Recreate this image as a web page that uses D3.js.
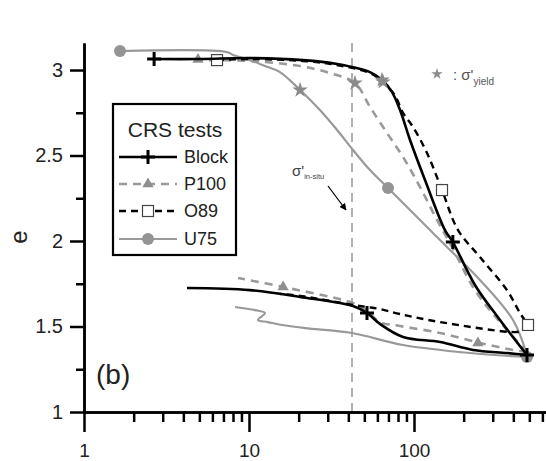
<!DOCTYPE html>
<html>
<head>
<meta charset="utf-8">
<script src="https://cdn.jsdelivr.net/npm/d3@7"></script>
<style>
  body { margin: 0; background: #fff; }
  svg { display: block; font-family: "Liberation Sans", Arial, sans-serif; }
</style>
</head>
<body>
<div id="chart"></div>
<script>
// CRS tests: effective stress (kPa, log) vs void ratio e
// each curve as [stress, e] pairs, loading then unloading branch
const blockLoading = [[2.66,3.064],[5.05,3.064],[10.1,3.070],[21.2,3.058],[34.2,3.035],[54.1,2.988],[64.0,2.942],
    [73.6,2.871],[82.3,2.766],[94.6,2.591],[116.6,2.357],[154,2.064],[172,1.994],[234,1.743],[332,1.538],[484,1.333]];
const blockUnloading = [[484,1.333],[366,1.345],[228,1.363],[144,1.409],[85.8,1.439],[62.2,1.515],[51.9,1.579],
    [42.7,1.620],[20.4,1.673],[10.1,1.713],[4.21,1.725]];

const p100Loading = [[4.71,3.058],[10.1,3.053],[20.4,3.023],[31.0,2.982],[43.9,2.924],[54.1,2.784],[68.6,2.632],
    [85.8,2.491],[108.7,2.316],[137.9,2.123],[170,1.965],[234,1.713],[332,1.526],[484,1.351]];
const p100Unloading = [[484,1.351],[398,1.363],[251,1.404],[144,1.462],[82.3,1.503],[62.2,1.526],[51.9,1.591],
    [42.7,1.637],[16.1,1.731],[8.58,1.784]];

const o89Loading = [[6.40,3.058],[10.1,3.064],[21.2,3.053],[34.2,3.029],[54.1,2.982],[64.9,2.930],[76.7,2.850],
    [85.8,2.749],[98.6,2.667],[119.9,2.515],[147.8,2.298],[184.8,2.064],[251,1.906],[366,1.713],[439,1.579],[491,1.509]];
const o89Unloading = [[491,1.509],[458,1.480],[421,1.468],[144,1.526],[82.3,1.573],[62.2,1.602],[51.9,1.614],
    [42.7,1.626],[20.4,1.679],[15.4,1.690]];

const u75Loading = [[1.653,3.111],[7.36,3.105],[8.0,3.088],[10.1,3.058],[12.5,3.023],[15.4,2.988],[20.4,2.883],
    [26.9,2.766],[34.2,2.649],[42.7,2.532],[54.1,2.415],[69.6,2.310],[98.6,2.164],[158.5,1.965],[251,1.772],[398,1.538],[484,1.333]];
const u75Unloading = [[484,1.322],[218.5,1.345],[85.8,1.392],[42.1,1.462],[21.85,1.491],[15.85,1.509],[13.04,1.526],
    [11.34,1.538],[12.5,1.579],[10.88,1.596],[8.23,1.614]];

// marker positions along each curve
const blockMarks = [[2.66,3.064],[172,1.994],[51.9,1.579],[484,1.333]];
const p100Marks = [[4.91,3.062],[16.1,1.731],[244,1.404]];
const o89Marks = [[6.40,3.058],[147.8,2.298],[491,1.509]];
const u75Marks = [[1.653,3.111],[69.6,2.310],[484,1.322]];

// yield stress points (stars)
const yieldPoints = [[20.4,2.883],[43.9,2.924],[64.0,2.942],[64.9,2.930]];

// in-situ effective stress
const inSituStress = 42.1;

const yTicks = [1, 1.5, 2, 2.5, 3];
const yMinorTicks = [1.25, 1.75, 2.25, 2.75];
const xTicks = [1, 10, 100];
const xMinorTicks = [2,3,4,5,6,7,8,9,20,30,40,50,60,70,80,90,200,300,400,500,600];

const width = 546;
const height = 461;
const gray = "#999";

const x = d3.scaleLog().domain([1, 631]).range([84, 546]);
const y = d3.scaleLinear().domain([1, 3.158]).range([412, 43]);

const series = [
    {name: "U75", paths: [u75Loading, u75Unloading], stroke: gray, dash: null, width: 2.2, marker: "circle", marks: u75Marks},
    {name: "P100", paths: [p100Loading, p100Unloading], stroke: gray, dash: "8,6", width: 2.6, marker: "triangle", marks: p100Marks},
    {name: "O89", paths: [o89Loading, o89Unloading], stroke: "#000", dash: "7,5", width: 2.4, marker: "square", marks: o89Marks},
    {name: "Block", paths: [blockLoading, blockUnloading], stroke: "#000", dash: null, width: 2.6, marker: "cross", marks: blockMarks}
];

const svg = d3.create("svg")
    .attr("width", width)
    .attr("height", height)
    .attr("viewBox", [0, 0, width, height]);

svg.append("defs").append("marker")
    .attr("id", "arrow")
    .attr("viewBox", "0 0 10 10")
    .attr("refX", 9).attr("refY", 5)
    .attr("markerWidth", 7).attr("markerHeight", 7)
    .attr("markerUnits", "userSpaceOnUse")
    .attr("orient", "auto")
    .append("path")
    .attr("d", "M0,0L10,5L0,10z")
    .attr("fill", "#000");

// draw one marker symbol at (0,0)
function drawMarker(g, type) {
    if (type === "cross") {
        g.append("path").attr("d", "M-7,0H7M0,-7V7")
            .attr("stroke", "#000").attr("stroke-width", 3).attr("fill", "none");
    } else if (type === "triangle") {
        g.append("path").attr("d", d3.symbol(d3.symbolTriangle, 55)())
            .attr("fill", "#8f8f8f");
    } else if (type === "square") {
        g.append("rect").attr("x", -5.5).attr("y", -5.5).attr("width", 11).attr("height", 11)
            .attr("fill", "#fff").attr("stroke", "#444").attr("stroke-width", 1.2);
    } else if (type === "circle") {
        g.append("circle").attr("r", 6).attr("fill", "#949494");
    }
}

// in-situ stress line
svg.append("line")
    .attr("x1", x(inSituStress)).attr("x2", x(inSituStress))
    .attr("y1", y(3.158)).attr("y2", y(1))
    .attr("stroke", "#888")
    .attr("stroke-width", 1.3)
    .attr("stroke-dasharray", "9,6");

const line = d3.line()
    .x(d => x(d[0]))
    .y(d => y(d[1]))
    .curve(d3.curveCatmullRom.alpha(0.5));

series.forEach(s => {
    const g = svg.append("g");
    s.paths.forEach(p => {
        g.append("path")
            .datum(p)
            .attr("d", line)
            .attr("fill", "none")
            .attr("stroke", s.stroke)
            .attr("stroke-width", s.width)
            .attr("stroke-dasharray", s.dash)
            .attr("stroke-linejoin", "round");
    });
    s.marks.forEach(m => {
        const mg = g.append("g").attr("transform", `translate(${x(m[0])},${y(m[1])})`);
        drawMarker(mg, s.marker);
    });
});

// yield stars
svg.append("g")
    .selectAll("path")
    .data(yieldPoints)
    .enter()
    .append("path")
    .attr("transform", d => `translate(${x(d[0])},${y(d[1])})`)
    .attr("d", d3.symbol(d3.symbolStar, 75)())
    .attr("fill", "#8a8a8a");

// axes
const yAxis = svg.append("g")
    .attr("transform", `translate(${x(1)},0)`)
    .call(d3.axisLeft(y).tickValues(yTicks).tickSize(14).tickSizeOuter(0).tickPadding(7).tickFormat(d => d));
yAxis.append("g")
    .call(d3.axisLeft(y).tickValues(yMinorTicks).tickSize(8).tickSizeOuter(0).tickFormat(""));

const xAxis = svg.append("g")
    .attr("transform", `translate(0,${y(1)})`)
    .call(d3.axisBottom(x).tickValues(xTicks).tickSize(20).tickSizeOuter(0).tickPadding(12).tickFormat(d => d));
xAxis.append("g")
    .call(d3.axisBottom(x).tickValues(xMinorTicks).tickSize(10).tickSizeOuter(0).tickFormat(""));

svg.selectAll(".domain, .tick line")
    .attr("stroke", "#000")
    .attr("stroke-width", 2.5);
svg.selectAll(".tick text")
    .attr("font-size", 20)
    .attr("font-family", "Liberation Sans, Arial, sans-serif")
    .attr("fill", "#222");
xAxis.selectAll(".tick text").attr("font-size", 19);

// y axis title
svg.append("text")
    .attr("transform", "translate(27,237) rotate(-90)")
    .attr("text-anchor", "middle")
    .attr("font-size", 24)
    .attr("fill", "#222")
    .text("e");

// panel label
svg.append("text")
    .attr("x", 96).attr("y", 384)
    .attr("font-size", 28)
    .attr("fill", "#222")
    .text("(b)");

// yield legend note
svg.append("path")
    .attr("transform", "translate(437,74)")
    .attr("d", d3.symbol(d3.symbolStar, 40)())
    .attr("fill", "#8a8a8a");
const yieldNote = svg.append("text")
    .attr("x", 453).attr("y", 80)
    .attr("font-size", 15)
    .attr("fill", "#555");
yieldNote.append("tspan").text(": σ'");
yieldNote.append("tspan").attr("font-size", 10).attr("dy", 5).text("yield");

// in-situ stress note with arrow
const inSituNote = svg.append("text")
    .attr("x", 292).attr("y", 176)
    .attr("font-size", 15)
    .attr("fill", "#444");
inSituNote.append("tspan").text("σ'");
inSituNote.append("tspan").attr("font-size", 7.5).attr("dy", 3).text("in-situ");

svg.append("line")
    .attr("x1", 328).attr("y1", 186)
    .attr("x2", 346).attr("y2", 210)
    .attr("stroke", "#000")
    .attr("stroke-width", 1.2)
    .attr("marker-end", "url(#arrow)");

// legend
const legend = svg.append("g");
legend.append("rect")
    .attr("x", 113).attr("y", 104)
    .attr("width", 123).attr("height", 151)
    .attr("fill", "#fff")
    .attr("stroke", "#000")
    .attr("stroke-width", 2.2);
legend.append("text")
    .attr("x", 175).attr("y", 137)
    .attr("text-anchor", "middle")
    .attr("font-size", 21)
    .attr("fill", "#222")
    .text("CRS tests");

const legendOrder = ["Block", "P100", "O89", "U75"];
const legendRows = [157, 184, 211, 239];
legendOrder.forEach((name, i) => {
    const s = series.find(d => d.name === name);
    const row = legend.append("g").attr("transform", `translate(0,${legendRows[i]})`);
    row.append("line")
        .attr("x1", 119).attr("x2", 177)
        .attr("stroke", s.stroke)
        .attr("stroke-width", s.width)
        .attr("stroke-dasharray", s.dash);
    drawMarker(row.append("g").attr("transform", "translate(148,0)"), s.marker);
    row.append("text")
        .attr("x", 184)
        .attr("dy", "0.36em")
        .attr("font-size", 18)
        .attr("fill", "#222")
        .text(name);
});

document.querySelector("#chart").appendChild(svg.node());
</script>
</body>
</html>
